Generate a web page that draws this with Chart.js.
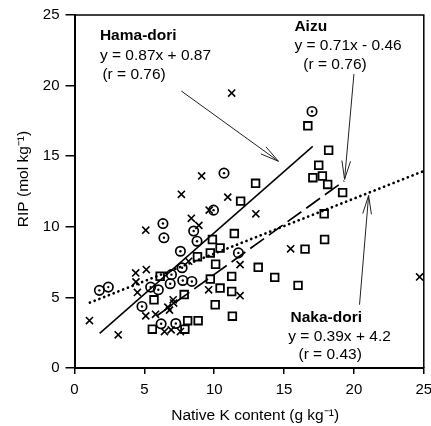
<!DOCTYPE html>
<html>
<head>
<meta charset="utf-8">
<script src="https://cdn.jsdelivr.net/npm/chart.js@4"></script>
<style>
  html, body { margin: 0; padding: 0; background: #fff; }
  #wrap { width: 431px; height: 426px; position: relative; }
</style>
</head>
<body>
<div id="wrap"><canvas id="c" width="431" height="426"></canvas></div>
<script>
// ---- data ----
// circled dots (Hama-dori)
const hamaX = [1.78, 2.42, 4.83, 5.45, 6.0, 6.33, 6.4, 6.2, 7.25, 6.85, 6.94, 7.58, 7.7, 7.75, 8.4, 8.53, 8.77, 10.7, 9.95, 11.73, 17.0];
const hamaY = [5.5, 5.73, 4.36, 5.73, 5.54, 10.23, 9.22, 3.13, 3.15, 5.97, 6.61, 8.27, 7.1, 6.2, 6.13, 9.7, 8.98, 13.8, 11.18, 8.15, 18.17];
// squares (Aizu)
const aizuX = [5.57, 5.69, 6.13, 7.85, 7.9, 8.1, 8.85, 8.8, 9.72, 9.87, 10.42, 11.44, 10.1, 9.72, 11.25, 10.42, 11.25, 10.07, 11.3, 13.15, 14.33, 16.0, 16.5, 17.9, 17.87, 19.19, 18.12, 17.06, 17.48, 17.74, 18.19, 16.7, 12.96, 11.89];
const aizuY = [2.75, 4.83, 6.5, 5.2, 2.75, 3.35, 3.35, 7.88, 8.15, 9.1, 8.5, 9.52, 7.35, 6.3, 6.49, 5.66, 5.42, 4.48, 3.67, 7.13, 6.42, 5.85, 8.42, 9.1, 10.92, 12.42, 13.0, 13.48, 14.36, 13.6, 15.42, 17.15, 13.08, 11.82];
// crosses (Naka-dori)
const nakaX = [1.07, 3.13, 4.38, 5.14, 4.5, 4.4, 5.1, 5.1, 5.8, 6.44, 6.68, 6.8, 7.06, 7.1, 6.92, 7.58, 7.65, 8.36, 8.9, 9.1, 9.64, 10.97, 11.25, 12.98, 8.17, 11.85, 9.6, 11.85, 15.47, 24.7];
const nakaY = [3.36, 2.35, 6.73, 6.97, 5.35, 6.1, 9.76, 3.69, 3.8, 2.58, 4.31, 4.1, 4.83, 4.6, 2.7, 2.58, 12.3, 10.6, 10.1, 13.6, 11.18, 12.1, 19.47, 10.92, 7.56, 7.32, 5.54, 5.12, 8.44, 6.45];
// regression line end points
const hamaFitX = [1.8, 17.05];
const hamaFitY = [2.45, 15.7];
const aizuFitX = [5.9, 19.3];
const aizuFitY = [3.7, 13.25];
const nakaFitX = [1.1, 25];
const nakaFitY = [4.63, 13.95];
// ticks
const xTicks = [0, 5, 10, 15, 20, 25];
const yTicks = [0, 5, 10, 15, 20, 25];
// annotation texts
const hamaText = ['Hama-dori', 'y = 0.87x + 0.87', '(r = 0.76)'];
const aizuText = ['Aizu', 'y = 0.71x - 0.46', '(r = 0.76)'];
const nakaText = ['Naka-dori', 'y = 0.39x + 4.2', '(r = 0.43)'];
const xTitle = 'Native K content (g kg\u207B\u00B9)';
const yTitle = 'RIP (mol kg\u207B\u00B9)';

// ---- layout of annotations (data units) ----
const notes = [
  { text: hamaText, at: [[1.82, 23.5], [1.82, 22.1], [2.0, 20.8]] },
  { text: aizuText, at: [[15.74, 24.2], [15.74, 22.85], [16.38, 21.5]] },
  { text: nakaText, at: [[15.46, 3.55], [15.3, 2.2], [16.03, 0.92]] }
];
const arrows = [
  { from: [7.64, 19.62], to: [14.6, 14.64] },
  { from: [20.0, 20.82], to: [19.33, 13.36] },
  { from: [20.4, 4.48], to: [21.05, 12.22] }
];

const pts = (xs, ys) => xs.map((x, i) => ({ x: x, y: ys[i] }));
const FONT = '"Liberation Sans", Arial, sans-serif';

const annotate = {
  id: 'annotate',
  afterDatasetsDraw(chart) {
    const { ctx, chartArea: a, scales: { x, y } } = chart;
    ctx.save();
    // frame top and right
    ctx.strokeStyle = '#000';
    ctx.lineWidth = 1.5;
    ctx.beginPath();
    ctx.moveTo(a.left, a.top);
    ctx.lineTo(a.right, a.top);
    ctx.lineTo(a.right, a.bottom);
    ctx.stroke();
    // arrows
    ctx.lineWidth = 1;
    ctx.strokeStyle = '#222';
    arrows.forEach(ar => {
      const x1 = x.getPixelForValue(ar.from[0]), y1 = y.getPixelForValue(ar.from[1]);
      const x2 = x.getPixelForValue(ar.to[0]), y2 = y.getPixelForValue(ar.to[1]);
      ctx.beginPath();
      ctx.moveTo(x1, y1); ctx.lineTo(x2, y2); ctx.stroke();
      const ang = Math.atan2(y1 - y2, x1 - x2);
      const L = 19, h = 0.23;
      ctx.beginPath();
      ctx.moveTo(x2 + L * Math.cos(ang + h), y2 + L * Math.sin(ang + h));
      ctx.lineTo(x2, y2);
      ctx.lineTo(x2 + L * Math.cos(ang - h), y2 + L * Math.sin(ang - h));
      ctx.stroke();
    });
    // texts
    ctx.fillStyle = '#000';
    ctx.textBaseline = 'middle';
    ctx.textAlign = 'left';
    notes.forEach(n => {
      n.text.forEach((t, i) => {
        ctx.font = (i === 0 ? 'bold ' : '') + '15.5px ' + FONT;
        ctx.fillText(t, x.getPixelForValue(n.at[i][0]), y.getPixelForValue(n.at[i][1]));
      });
    });
    // axis titles
    ctx.font = '15.5px ' + FONT;
    ctx.textAlign = 'center';
    ctx.fillText(xTitle, (a.left + a.right) / 2 + 6, 416);
    ctx.translate(24, 179);
    ctx.rotate(-Math.PI / 2);
    ctx.fillText(yTitle, 0, 0);
    ctx.restore();
  }
};

new Chart(document.getElementById('c'), {
  type: 'scatter',
  data: {
    datasets: [
      { type: 'line', data: pts(hamaFitX, hamaFitY), borderColor: '#000', borderWidth: 1.5, pointRadius: 0, fill: false },
      { type: 'line', data: pts(aizuFitX, aizuFitY), borderColor: '#000', borderWidth: 1.7, borderDash: [17, 6], pointRadius: 0, fill: false },
      { type: 'line', data: pts(nakaFitX, nakaFitY), borderColor: '#000', borderWidth: 2.7, borderDash: [0.1, 5], borderCapStyle: 'round', pointRadius: 0, fill: false },
      { data: pts(nakaX, nakaY), pointStyle: 'crossRot', pointRadius: 5, borderColor: '#000', borderWidth: 1.6, backgroundColor: '#000' },
      { data: pts(aizuX, aizuY), pointStyle: 'rect', pointRadius: 5.4, borderColor: '#000', borderWidth: 1.8, backgroundColor: 'rgba(0,0,0,0)' },
      { data: pts(hamaX, hamaY), pointStyle: 'circle', pointRadius: 4.7, borderColor: '#000', borderWidth: 1.7, backgroundColor: 'rgba(0,0,0,0)' },
      { data: pts(hamaX, hamaY), pointStyle: 'circle', pointRadius: 1.2, borderWidth: 0, backgroundColor: '#000' }
    ]
  },
  options: {
    responsive: false,
    animation: false,
    events: [],
    layout: { padding: { left: 0, top: 15, right: 4, bottom: 1 } },
    plugins: { legend: { display: false }, tooltip: { enabled: false } },
    scales: {
      x: {
        type: 'linear', min: 0, max: 25,
        afterBuildTicks: s => { s.ticks = xTicks.map(v => ({ value: v })); },
        afterFit: s => { s.height = 57; s.paddingLeft = 0; s.paddingRight = 0; },
        ticks: { color: '#000', font: { family: FONT, size: 15 }, padding: 7, maxRotation: 0 },
        grid: { drawOnChartArea: false, drawTicks: true, tickLength: 6, color: '#000', lineWidth: 1.5 },
        border: { display: true, color: '#000', width: 2 },
        title: { display: false }
      },
      y: {
        type: 'linear', min: 0, max: 25,
        afterBuildTicks: s => { s.ticks = yTicks.map(v => ({ value: v })); },
        afterFit: s => { s.width = 74.5; s.paddingTop = 0; s.paddingBottom = 0; },
        ticks: { color: '#000', font: { family: FONT, size: 15 }, padding: 6 },
        grid: { drawOnChartArea: false, drawTicks: true, tickLength: 9, color: '#000', lineWidth: 1.5 },
        border: { display: true, color: '#000', width: 2 },
        title: { display: false }
      }
    }
  },
  plugins: [annotate]
});
</script>
</body>
</html>
